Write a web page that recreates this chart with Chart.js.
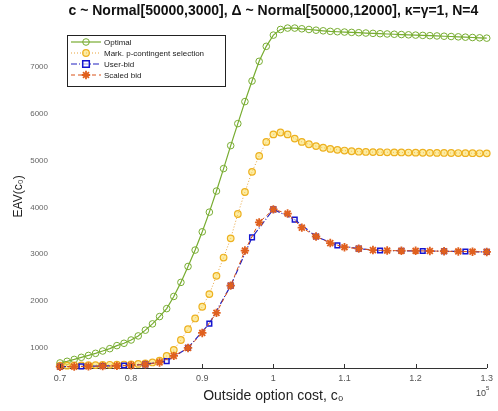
<!DOCTYPE html>
<html>
<head>
<meta charset="utf-8">
<script src="https://cdn.jsdelivr.net/npm/chart.js"></script>
<style>
  body { margin: 0; background: #fff; }
  #wrap { width: 498px; height: 411px; }
</style>
</head>
<body>
<div id="wrap"><canvas id="myChart"></canvas></div>
<script>
// outside option cost (x 10^5)
const xFine = [0.70,0.71,0.72,0.73,0.74,0.75,0.76,0.77,0.78,0.79,
  0.80,0.81,0.82,0.83,0.84,0.85,0.86,0.87,0.88,0.89,
  0.90,0.91,0.92,0.93,0.94,0.95,0.96,0.97,0.98,0.99,
  1.00,1.01,1.02,1.03,1.04,1.05,1.06,1.07,1.08,1.09,
  1.10,1.11,1.12,1.13,1.14,1.15,1.16,1.17,1.18,1.19,
  1.20,1.21,1.22,1.23,1.24,1.25,1.26,1.27,1.28,1.29,1.30];
const xUserBid = [0.70,0.73,0.76,0.79,0.82,0.85,0.88,0.91,0.94,0.97,1.00,
  1.03,1.06,1.09,1.12,1.15,1.18,1.21,1.24,1.27,1.30];
const xScaledBid = [0.70,0.72,0.74,0.76,0.78,0.80,0.82,0.84,0.86,0.88,0.90,
  0.92,0.94,0.96,0.98,1.00,1.02,1.04,1.06,1.08,1.10,
  1.12,1.14,1.16,1.18,1.20,1.22,1.24,1.26,1.28,1.30];

const optimal = [680,715,755,800,840,885,935,985,1050,1100,
  1170,1257,1380,1514,1670,1840,2100,2400,2740,3090,
  3480,3900,4350,4830,5320,5790,6260,6700,7120,7440,
  7680,7800,7830,7830,7815,7800,7785,7772,7760,7752,
  7745,7738,7731,7724,7717,7710,7704,7698,7692,7686,
  7680,7674,7668,7662,7656,7650,7643,7636,7629,7622,7615];
const markSelection = [620,622,625,628,631,634,637,640,643,646,
  650,660,670,690,730,830,960,1170,1400,1630,
  1880,2150,2540,2930,3340,3860,4330,4760,5100,5400,
  5560,5600,5560,5470,5400,5350,5310,5275,5250,5230,
  5215,5200,5190,5185,5182,5180,5178,5176,5174,5172,
  5170,5168,5166,5165,5164,5163,5162,5160,5158,5156,5155];
const userBid = [600,605,615,625,650,720,1000,1520,2330,3360,3960,
  3740,3380,3190,3120,3080,3075,3070,3065,3060,3050];
const scaledBid = [600,603,607,612,618,628,650,690,830,1000,1320,
  1750,2330,3080,3680,3960,3870,3570,3380,3240,3150,
  3120,3090,3080,3075,3075,3070,3065,3060,3055,3050];

const xTicks = [0.7,0.8,0.9,1,1.1,1.2,1.3];
const yTicks = [1000,2000,3000,4000,5000,6000,7000];

function pts(xs, ys) {
  return xs.map((x, i) => ({x: x, y: ys[i]}));
}

// legend drawn inside the axes, matlab style
const boxLegend = {
  id: 'boxLegend',
  afterDraw(chart) {
    const ctx = chart.ctx;
    const x0 = 67, y0 = 35, w = 158, h = 51;
    ctx.save();
    ctx.fillStyle = '#fff';
    ctx.fillRect(x0, y0, w, h);
    ctx.strokeStyle = '#222';
    ctx.lineWidth = 1;
    ctx.strokeRect(x0 + 0.5, y0 + 0.5, w, h);
    const rows = [42, 53, 64, 75];
    chart.data.datasets.forEach((ds, i) => {
      const y = rows[i];
      ctx.strokeStyle = ds.borderColor;
      ctx.lineWidth = ds.borderWidth;
      ctx.setLineDash(ds.borderDash || []);
      ctx.beginPath();
      ctx.moveTo(71, y);
      ctx.lineTo(101, y);
      ctx.stroke();
      ctx.setLineDash([]);
      ctx.strokeStyle = ds.pointBorderColor;
      ctx.fillStyle = ds.pointBackgroundColor;
      ctx.lineWidth = ds.pointBorderWidth;
      const r = ds.pointRadius, cx = 86;
      ctx.beginPath();
      if (ds.pointStyle === 'circle') {
        ctx.arc(cx, y, r, 0, Math.PI * 2);
        ctx.fill(); ctx.stroke();
      } else if (ds.pointStyle === 'rect') {
        ctx.rect(cx - r, y - r, 2 * r, 2 * r);
        ctx.fill(); ctx.stroke();
      } else {
        for (let k = 0; k < 4; k++) {
          const a = k * Math.PI / 4;
          ctx.moveTo(cx - r * Math.cos(a), y - r * Math.sin(a));
          ctx.lineTo(cx + r * Math.cos(a), y + r * Math.sin(a));
        }
        ctx.stroke();
      }
      ctx.fillStyle = '#222';
      ctx.font = '8px "Liberation Sans", Arial, sans-serif';
      ctx.textBaseline = 'middle';
      ctx.fillText(ds.label, 104, y + 0.5);
    });
    // small ticks pointing into the axes
    const xs = chart.scales.x;
    const bottom = chart.chartArea.bottom;
    ctx.strokeStyle = '#333';
    ctx.lineWidth = 1;
    xTicks.forEach(v => {
      const px = Math.round(xs.getPixelForValue(v)) + 0.5;
      ctx.beginPath();
      ctx.moveTo(px, bottom);
      ctx.lineTo(px, bottom - 4);
      ctx.stroke();
    });
    // exponent label
    ctx.fillStyle = '#444';
    ctx.font = '9px "Liberation Sans", Arial, sans-serif';
    ctx.textBaseline = 'alphabetic';
    ctx.fillText('10', 476, 396);
    ctx.font = '6px "Liberation Sans", Arial, sans-serif';
    ctx.fillText('5', 486, 390);
    ctx.restore();
  }
};

const config = {
  type: 'line',
  data: {
    datasets: [{
      label: 'Optimal',
      data: pts(xFine, optimal),
      borderColor: '#77AC30',
      borderWidth: 1.2,
      pointStyle: 'circle',
      pointRadius: 3.3,
      pointBorderWidth: 1,
      pointBorderColor: '#77AC30',
      pointBackgroundColor: 'rgba(255,255,255,0)',
      order: 3
    }, {
      label: 'Mark. p-contingent selection',
      data: pts(xFine, markSelection),
      borderColor: '#E8A33A',
      borderWidth: 1,
      borderDash: [1, 2],
      pointStyle: 'circle',
      pointRadius: 3.3,
      pointBorderWidth: 1.2,
      pointBorderColor: '#EDB120',
      pointBackgroundColor: 'rgba(250,220,90,0.55)',
      order: 2
    }, {
      label: 'User-bid',
      data: pts(xUserBid, userBid),
      borderColor: '#2020C0',
      borderWidth: 1.2,
      borderDash: [6, 2, 1, 2],
      pointStyle: 'rect',
      pointRadius: 3.3,
      pointBorderWidth: 1.5,
      pointBorderColor: '#1515D0',
      pointBackgroundColor: 'rgba(255,255,255,0.6)',
      order: 1
    }, {
      label: 'Scaled bid',
      data: pts(xScaledBid, scaledBid),
      borderColor: '#D95319',
      borderWidth: 1,
      borderDash: [4, 3],
      pointStyle: 'star',
      pointRadius: 4.2,
      pointBorderWidth: 1.8,
      pointBorderColor: '#E0601E',
      pointBackgroundColor: '#E0601E',
      order: 0
    }]
  },
  options: {
    responsive: true,
    maintainAspectRatio: false,
    animation: false,
    layout: { padding: { left: 0, right: 1, top: 0, bottom: 0 }, autoPadding: false },
    elements: { line: { tension: 0 } },
    scales: {
      x: {
        type: 'linear',
        min: 0.7,
        max: 1.3,
        afterBuildTicks: s => { s.ticks = xTicks.map(v => ({value: v})); },
        afterFit: s => { s.height = 43; },
        grid: { display: false, drawTicks: false },
        border: { display: true, color: '#333', width: 1 },
        ticks: {
          padding: 5,
          color: '#555',
          font: { size: 9, family: '"Liberation Sans", Arial, sans-serif' },
          maxRotation: 0,
          callback: v => String(Math.round(v * 10) / 10)
        },
        title: {
          display: true,
          text: 'Outside option cost, c₀',
          color: '#222',
          font: { size: 14, family: '"Liberation Sans", Arial, sans-serif' },
          padding: { top: 0, bottom: 6 }
        }
      },
      y: {
        min: 572,
        max: 7900,
        afterBuildTicks: s => { s.ticks = yTicks.map(v => ({value: v})); },
        afterFit: s => { s.width = 60; },
        grid: { display: false, drawTicks: false },
        border: { display: false },
        ticks: {
          padding: 12,
          color: '#666',
          font: { size: 8, family: '"Liberation Sans", Arial, sans-serif' },
          callback: v => String(v)
        },
        title: {
          display: true,
          text: 'EAV(c₀)',
          color: '#222',
          font: { size: 12, family: '"Liberation Sans", Arial, sans-serif' },
          padding: { top: 11, bottom: 0 }
        }
      }
    },
    plugins: {
      legend: { display: false },
      tooltip: { enabled: false },
      title: {
        display: true,
        fullSize: false,
        text: 'c ~ Normal[50000,3000], Δ ~ Normal[50000,12000], κ=γ=1, N=4',
        color: '#111',
        font: { size: 14, weight: 'bold', family: '"Liberation Sans", Arial, sans-serif' },
        padding: { top: 3, bottom: 5 }
      }
    }
  },
  plugins: [boxLegend]
};

config.data.datasets.forEach(ds => { ds.clip = false; ds.fill = false; });

const myChart = new Chart(document.getElementById('myChart'), config);
</script>
</body>
</html>
